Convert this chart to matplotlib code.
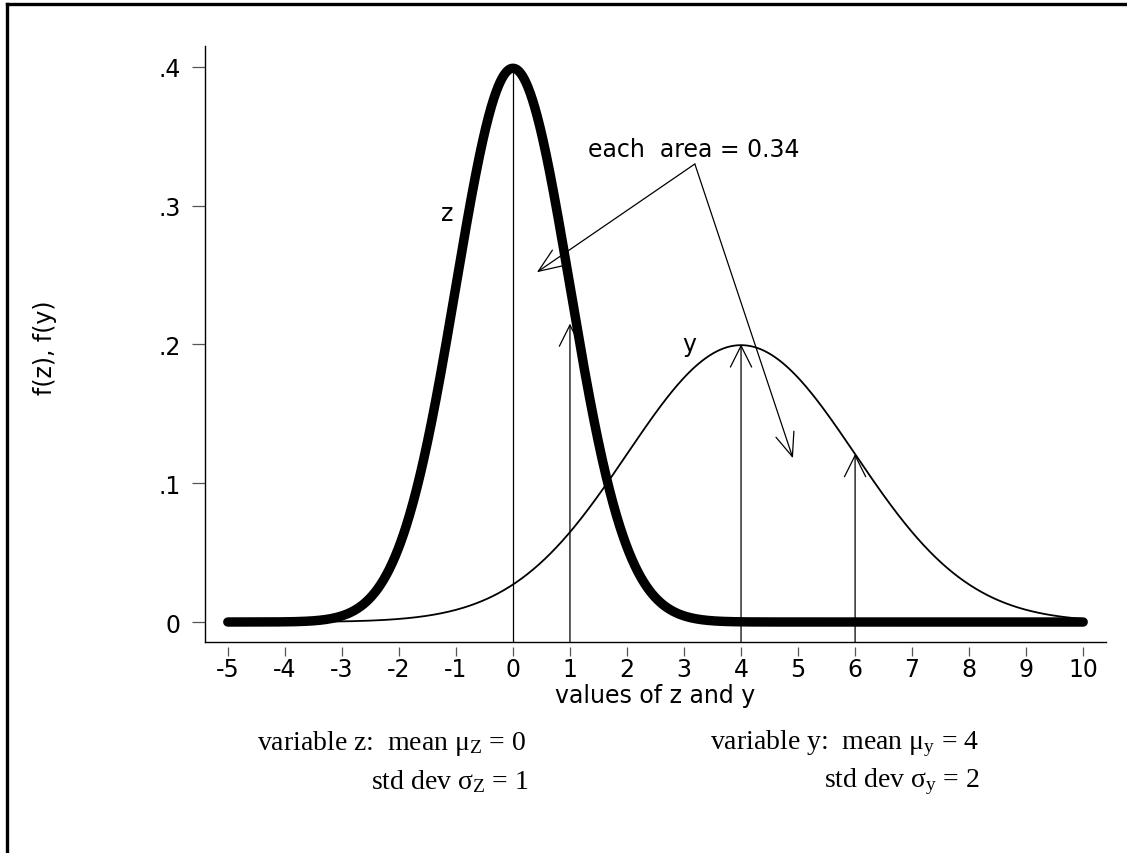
import numpy as np
import matplotlib.pyplot as plt
from matplotlib.lines import Line2D

plt.rc("font", family="DejaVu Sans", size=17)
plt.rc("mathtext", fontset="custom", rm="Liberation Serif",
       it="Liberation Serif:italic")

# distribution parameters
z_mean, z_sd = 0.0, 1.0
y_mean, y_sd = 4.0, 2.0
x_range = [-5.0, 10.0]

# vertical markers: x position and height of the line top
mark_x = [0, 1, 4, 6]
mark_top = [0.4, 0.215, 0.2, 0.121]
mark_head = [False, True, True, True]

xticks = list(range(-5, 11))
yticks = [0, 0.1, 0.2, 0.3, 0.4]
ytick_labels = ["0", ".1", ".2", ".3", ".4"]

area_text = "each  area = 0.34"
area_text_pos = (1.32, 0.341)
area_apex = (3.19, 0.330)
area_targets = [(0.42, 0.252), (4.91, 0.118)]

FS = 17


def npdf(x, m, s):
    return np.exp(-0.5 * ((x - m) / s) ** 2) / (s * np.sqrt(2 * np.pi))


fig = plt.figure(figsize=(11.27, 8.54), dpi=100)
ax = fig.add_axes([205 / 1127, 1 - 643 / 854, (1106 - 205) / 1127, (643 - 47) / 854])

xs = np.linspace(x_range[0], x_range[1], 1500)
ax.plot(xs, npdf(xs, y_mean, y_sd), color="black", lw=1.3, zorder=3)
ax.plot(xs, npdf(xs, z_mean, z_sd), color="black", lw=6.8,
        solid_capstyle="round", zorder=4)

ymin = -0.0144
for x, top, head in zip(mark_x, mark_top, mark_head):
    if head:
        ax.annotate("", xy=(x, top), xytext=(x, ymin),
                    arrowprops=dict(arrowstyle="->,head_length=0.9,head_width=0.45",
                                    lw=0.9, color="black", shrinkA=0, shrinkB=0),
                    zorder=2)
    else:
        ax.plot([x, x], [ymin, top], color="black", lw=0.9, zorder=2)

ax.text(area_text_pos[0], area_text_pos[1], area_text, ha="left", va="center",
        fontsize=FS)
for tx, ty in area_targets:
    ax.annotate("", xy=(tx, ty), xytext=area_apex,
                arrowprops=dict(arrowstyle="->,head_length=1.0,head_width=0.4",
                                lw=0.9, color="black", shrinkA=0, shrinkB=0))

ax.text(-1.16, 0.295, "z", ha="center", va="center", fontsize=FS)
ax.text(3.1, 0.2, "y", ha="center", va="center", fontsize=FS)

ax.set_xlim(-5.40, 10.40)
ax.set_ylim(ymin, 0.415)
ax.set_xticks(xticks)
ax.set_xticklabels([str(t) for t in xticks])
ax.set_yticks(yticks)
ax.set_yticklabels(ytick_labels)

for side in ["top", "right", "bottom"]:
    ax.spines[side].set_visible(False)
ax.spines["left"].set_linewidth(1.0)
ax.spines["bottom"].set_position(("outward", 3.6))
ax.plot([0, 1], [0, 0], transform=ax.transAxes, color="black", lw=1.0,
        clip_on=False)
ax.tick_params(axis="x", direction="out", length=6.5, width=0.9,
               color="#555555", pad=0.5, labelsize=FS)
ax.tick_params(axis="y", direction="out", length=9.4, width=0.9,
               color="#555555", pad=8, labelsize=FS)

fig.text(655 / 1127, 1 - 696 / 854, "values of z and y", ha="center",
         va="center", fontsize=FS)
fig.text(45 / 1127, 1 - 348 / 854, "f(z), f(y)", ha="center", va="center",
         rotation=90, fontsize=FS)

# parameter notes below the plot
serif = "Liberation Serif"
SFS = 20
fig.text(257 / 1127, 1 - 744 / 854,
         r"variable z:  mean μ$_\mathrm{Z}$ = %g" % z_mean,
         family=serif, fontsize=SFS, va="center")
fig.text(371 / 1127, 1 - 782 / 854,
         r"std dev σ$_\mathrm{Z}$ = %g" % z_sd,
         family=serif, fontsize=SFS, va="center")
fig.text(710 / 1127, 1 - 744 / 854,
         r"variable y:  mean μ$_\mathrm{y}$ = %g" % y_mean,
         family=serif, fontsize=SFS, va="center")
fig.text(824 / 1127, 1 - 782 / 854,
         r"std dev σ$_\mathrm{y}$ = %g" % y_sd,
         family=serif, fontsize=SFS, va="center")

# outer frame (left and top edges)
fig.add_artist(Line2D([6.5 / 1127, 6.5 / 1127], [0, 1 - 5 / 854],
                      color="black", lw=2.4, transform=fig.transFigure))
fig.add_artist(Line2D([6.5 / 1127, 1], [1 - 5 / 854, 1 - 5 / 854],
                      color="black", lw=2.4, transform=fig.transFigure))

fig.savefig("out.png", dpi=100)
